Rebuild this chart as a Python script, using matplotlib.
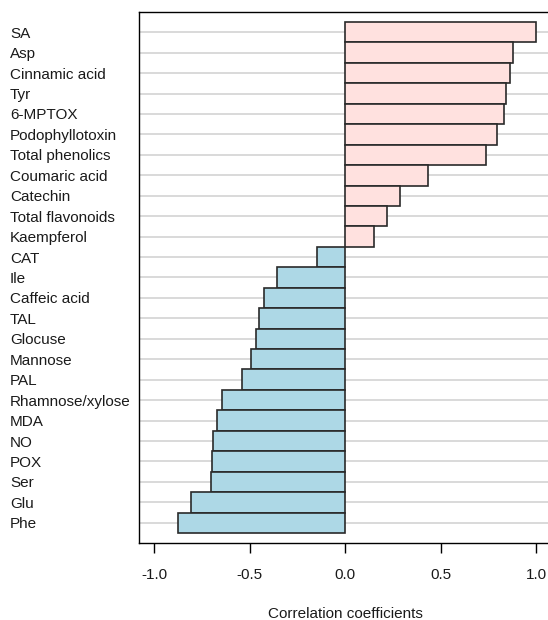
import numpy as np
import matplotlib
matplotlib.use("Agg")
import matplotlib.pyplot as plt

plt.rcParams['font.family'] = ['Liberation Sans', 'DejaVu Sans']

# variables, top to bottom
labels = ['SA', 'Asp', 'Cinnamic acid', 'Tyr', '6-MPTOX', 'Podophyllotoxin',
          'Total phenolics', 'Coumaric acid', 'Catechin', 'Total flavonoids',
          'Kaempferol', 'CAT', 'Ile', 'Caffeic acid', 'TAL', 'Glocuse',
          'Mannose', 'PAL', 'Rhamnose/xylose', 'MDA', 'NO', 'POX', 'Ser',
          'Glu', 'Phe']
coefs = [1.00, 0.88, 0.862, 0.84, 0.829, 0.796,
         0.735, 0.435, 0.286, 0.22,
         0.152, -0.15, -0.356, -0.424, -0.453, -0.469,
         -0.494, -0.542, -0.644, -0.67, -0.693, -0.698, -0.703,
         -0.81, -0.874]
xticks = [-1.0, -0.5, 0.0, 0.5, 1.0]

fig = plt.figure(figsize=(5.48, 6.20), dpi=100)
ax = fig.add_axes([139/548, 77/620, 412.6/548, 531/620])

ypos = np.arange(len(labels))[::-1]
colors = ['#ffe1df' if c > 0 else '#add8e6' for c in coefs]

# gridlines at bar centres, behind bars
for y in ypos:
    ax.axhline(y, color='#d3d3d3', lw=1.2, zorder=0)

ax.barh(ypos, coefs, height=1.0, color=colors, edgecolor='#2a2a2a',
        linewidth=1.2, zorder=2)

ax.set_ylim(-0.99, len(labels) - 0.01)
ax.set_xlim(-1.08, 1.08)

ax.set_yticks(ypos)
ax.set_yticklabels(labels, ha='left', fontsize=11, color='#1a1a1a')
ax.tick_params(axis='y', length=0, pad=129*0.72)

ax.set_xticks(xticks)
ax.set_xticklabels(['%.1f' % t for t in xticks], fontsize=11, color='#1a1a1a')
ax.tick_params(axis='x', direction='out', length=7, width=1, pad=11)

ax.set_xlabel('Correlation coefficients', fontsize=11, labelpad=18, color='#1a1a1a')

for s in ['top', 'bottom', 'left']:
    ax.spines[s].set_linewidth(1.0)
    ax.spines[s].set_color('black')
ax.spines['right'].set_visible(False)

fig.savefig('out.png', dpi=100)
